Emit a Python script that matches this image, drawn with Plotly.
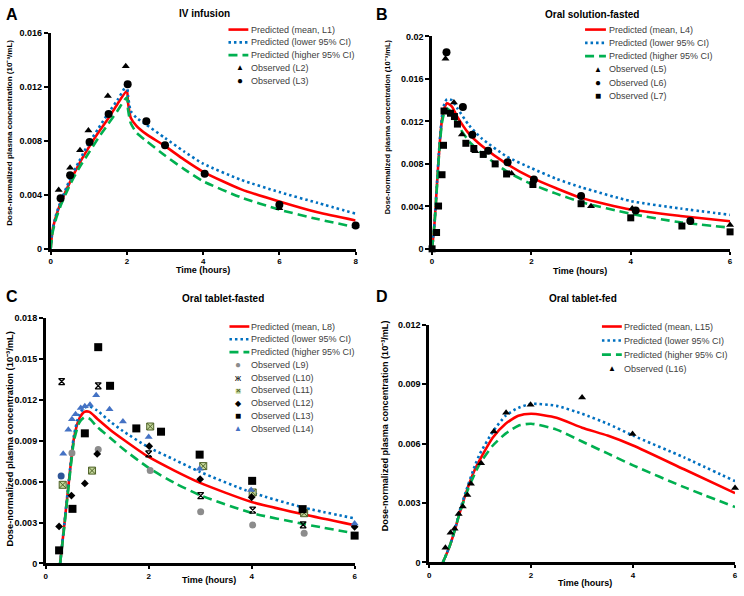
import plotly.graph_objects as go

W, H = 744, 596
FONT = "Arial, Liberation Sans, sans-serif"

# ---------------- Panel A : IV infusion ----------------
a_t = [0, 0.05, 0.15, 0.25, 0.5, 0.75, 1.0, 1.25, 1.5, 1.75, 2.0, 2.03, 2.1, 2.25, 2.5, 3, 3.5, 4, 5, 6, 7, 8]
a_mean = [0, 0.0014, 0.0025, 0.0033, 0.0049, 0.0063, 0.0075, 0.0086, 0.0096, 0.0107, 0.0117, 0.0108, 0.0097, 0.0091, 0.0085, 0.0076, 0.0066, 0.0057, 0.0044, 0.0035, 0.0027, 0.0021]
a_low = [0, 0.0014, 0.0026, 0.0034, 0.0051, 0.0065, 0.0078, 0.0089, 0.0100, 0.0110, 0.0121, 0.0113, 0.0102, 0.0097, 0.0092, 0.0082, 0.0072, 0.0063, 0.0051, 0.0042, 0.0034, 0.0026]
a_high = [0, 0.0012, 0.0023, 0.0031, 0.0047, 0.0060, 0.0071, 0.0082, 0.0092, 0.0102, 0.0112, 0.0103, 0.0093, 0.0086, 0.0080, 0.0069, 0.0059, 0.0050, 0.0038, 0.0029, 0.0022, 0.0016]
a_l2_t = [0.21, 0.51, 0.77, 0.99, 1.5, 1.97, 6.0, 8.0]
a_l2_c = [0.00435, 0.0060, 0.0073, 0.00875, 0.0113, 0.0135, 0.0030, 0.0017]
a_l3_t = [0.26, 0.51, 1.02, 1.52, 2.02, 2.51, 3.0, 4.04, 6.0, 8.0]
a_l3_c = [0.00375, 0.00544, 0.0079, 0.00998, 0.01218, 0.00943, 0.00766, 0.00556, 0.00326, 0.00172]

# ---------------- Panel B : Oral solution-fasted ----------------
b_t = [0, 0.05, 0.1, 0.15, 0.2, 0.25, 0.3, 0.4, 0.5, 0.75, 1, 1.5, 2, 2.5, 3, 4, 5, 6]
b_mean = [0, 0.0025, 0.0062, 0.0097, 0.0122, 0.0133, 0.0137, 0.0134, 0.0125, 0.0108, 0.0097, 0.0080, 0.0067, 0.0057, 0.0048, 0.0037, 0.0031, 0.0026]
b_low = [0, 0.0025, 0.0063, 0.0099, 0.0125, 0.0137, 0.0141, 0.0140, 0.0133, 0.0116, 0.0104, 0.0087, 0.0076, 0.0066, 0.0058, 0.0045, 0.0038, 0.0032]
b_high = [0, 0.0024, 0.0060, 0.0095, 0.0119, 0.0129, 0.0132, 0.0128, 0.0118, 0.0101, 0.0090, 0.0073, 0.0061, 0.0052, 0.0044, 0.0033, 0.0025, 0.0020]
b_l5_t = [0.27, 0.44, 0.6, 0.87, 1.6, 3.2, 4.03, 6.0]
b_l5_c = [0.0179, 0.01378, 0.01077, 0.0092, 0.0071, 0.0040, 0.0038, 0.00225]
b_l6_t = [0.29, 0.62, 0.81, 1.13, 1.52, 2.05, 3.0, 4.1, 5.2]
b_l6_c = [0.01852, 0.01335, 0.01074, 0.00923, 0.00815, 0.00652, 0.00498, 0.0036, 0.00262]
b_l7_t = [0, 0.09, 0.13, 0.2, 0.23, 0.24, 0.37, 0.45, 0.51, 0.68, 0.84, 1.03, 1.27, 1.5, 2.03, 3.0, 4.0, 5.03, 6.0]
b_l7_c = [0, 0.00154, 0.00403, 0.00698, 0.00975, 0.01298, 0.01277, 0.01246, 0.01175, 0.00994, 0.00945, 0.00889, 0.0080, 0.00705, 0.00606, 0.00425, 0.00292, 0.00215, 0.0016]

# ---------------- Panel C : Oral tablet-fasted ----------------
c_t = [0.28, 0.35, 0.45, 0.55, 0.65, 0.75, 0.85, 1.0, 1.25, 1.5, 2, 2.5, 3, 4, 5, 6]
c_mean = [0, 0.0024, 0.0060, 0.0092, 0.0106, 0.0111, 0.0111, 0.0106, 0.0098, 0.0091, 0.0078, 0.0068, 0.0059, 0.0045, 0.0036, 0.0028]
c_low = [0, 0.0025, 0.0061, 0.0094, 0.0109, 0.0114, 0.0115, 0.0112, 0.0104, 0.0097, 0.0085, 0.0076, 0.0067, 0.0052, 0.0041, 0.0033]
c_high = [0, 0.0023, 0.0058, 0.0090, 0.0103, 0.0107, 0.0106, 0.0100, 0.0092, 0.0084, 0.0070, 0.0059, 0.0050, 0.0037, 0.0029, 0.0022]
c_l9_t = [0.3, 0.51, 1.02, 2.03, 3.01, 4.02, 5.02]
c_l9_c = [0.0064, 0.00809, 0.00835, 0.0068, 0.00379, 0.00281, 0.00221]
c_l10_t = [0.31, 1.02, 2.0, 3.01, 4.02, 5.0]
c_l10_c = [0.01332, 0.01301, 0.00802, 0.00497, 0.00391, 0.00283]
c_l11_t = [0.33, 0.9, 2.03, 3.06, 4.02, 5.02]
c_l11_c = [0.00576, 0.0068, 0.01003, 0.00713, 0.0052, 0.00368]
c_l12_t = [0.26, 0.5, 0.76, 1.0, 2.01, 3.0, 4.0, 6.0]
c_l12_c = [0.00271, 0.00497, 0.00586, 0.00802, 0.00859, 0.00617, 0.00485, 0.00269]
c_l13_t = [0.26, 0.52, 0.76, 1.02, 1.25, 1.76, 2.24, 2.99, 4.01, 4.99, 6.0]
c_l13_c = [0.00096, 0.0040, 0.00953, 0.01584, 0.01301, 0.00989, 0.00965, 0.00797, 0.00605, 0.00398, 0.00204]
c_l14_t = [0.34, 0.44, 0.51, 0.58, 0.68, 0.76, 0.86, 0.98, 1.24, 1.5, 2.0, 2.99, 3.99, 6.0]
c_l14_c = [0.00804, 0.00979, 0.01056, 0.01092, 0.01138, 0.01152, 0.01162, 0.01231, 0.0113, 0.01039, 0.00926, 0.00694, 0.00538, 0.00293]

# ---------------- Panel D : Oral tablet-fed ----------------
d_t = [0.27, 0.4, 0.5, 0.6, 0.75, 0.9, 1.0, 1.25, 1.5, 1.75, 2.0, 2.5, 3, 3.5, 4, 5, 6]
d_mean = [0, 0.0008, 0.0016, 0.0025, 0.0037, 0.0047, 0.0052, 0.0063, 0.0070, 0.0074, 0.0075, 0.0073, 0.0068, 0.0064, 0.0059, 0.0047, 0.0035]
d_low = [0, 0.0008, 0.0016, 0.0026, 0.0038, 0.0049, 0.0055, 0.0066, 0.0074, 0.0078, 0.0080, 0.0079, 0.0075, 0.0070, 0.0064, 0.0053, 0.0041]
d_high = [0, 0.0008, 0.0016, 0.0025, 0.0036, 0.0045, 0.0050, 0.0059, 0.0065, 0.0069, 0.0070, 0.0067, 0.0061, 0.0055, 0.0049, 0.0038, 0.0028]
d_l16_t = [0.32, 0.42, 0.5, 0.58, 0.66, 0.75, 0.82, 1.02, 1.27, 1.51, 1.99, 3.0, 3.99, 6.0]
d_l16_c = [0.00074, 0.0015, 0.0017, 0.00244, 0.00282, 0.0034, 0.00397, 0.0050, 0.00661, 0.00755, 0.00796, 0.00832, 0.00648, 0.00376]

# ---------------- texts / ticks ----------------
panel_letters = ["A", "B", "C", "D"]
panel_titles = ["IV infusion", "Oral solution-fasted", "Oral tablet-fasted", "Oral tablet-fed"]
x_title = "Time (hours)"
y_title = "Dose-normalized plasma concentration (10⁻³/mL)"
x_ticks = [[0, 2, 4, 6, 8], [0, 2, 4, 6], [0, 2, 4, 6], [0, 2, 4, 6]]
y_ticks = [[0, 0.004, 0.008, 0.012, 0.016],
           [0, 0.004, 0.008, 0.012, 0.016, 0.02],
           [0, 0.003, 0.006, 0.009, 0.012, 0.015, 0.018],
           [0, 0.003, 0.006, 0.009, 0.012]]
y_ticktext = [["0", "0.004", "0.008", "0.012", "0.016"],
              ["0", "0.004", "0.008", "0.012", "0.016", "0.02"],
              ["0", "0.003", "0.006", "0.009", "0.012", "0.015", "0.018"],
              ["0", "0.003", "0.006", "0.009", "0.012"]]
legend_labels = [
    ["Predicted (mean, L1)", "Predicted (lower 95% CI)", "Predicted (higher 95% CI)", "Observed (L2)", "Observed (L3)"],
    ["Predicted (mean, L4)", "Predicted (lower 95% CI)", "Predicted (higher 95% CI)", "Observed (L5)", "Observed (L6)", "Observed (L7)"],
    ["Predicted (mean, L8)", "Predicted (lower 95% CI)", "Predicted (higher 95% CI)", "Observed (L9)", "Observed (L10)",
     "Observed (L11)", "Observed (L12)", "Observed (L13)", "Observed (L14)"],
    ["Predicted (mean, L15)", "Predicted (lower 95% CI)", "Predicted (higher 95% CI)", "Observed (L16)"],
]

# ---------------- styles / layout constants ----------------
RED, BLUE, GREEN = "#ff0000", "#0070c0", "#00b050"
GRAY, LBLUE, LGREEN, DGREEN = "#8c8c8c", "#4472c4", "#c3d69b", "#4f6228"
line_styles = [dict(color=RED, width=2.6), dict(color=BLUE, width=2.6, dash="2.5px,3px"),
               dict(color=GREEN, width=2.6, dash="9px,5px")]

# plot area in pixels: (left, right, top, bottom)
boxes = [(49, 356, 28, 248), (433, 733, 32, 248), (44, 355, 318, 568), (430, 738, 325, 567)]
x_ranges = [[0, 8], [0, 6], [0, 6], [0, 6]]
y_ranges = [[0, 0.016], [0, 0.02], [0, 0.018], [0, 0.012]]

def px(x):
    return x / W

def py(y):
    return 1 - y / H

fig = go.Figure()

def add_curves(i, t, mean, low, high):
    ax = "" if i == 0 else str(i + 1)
    for ys, st in zip([mean, low, high], line_styles):
        fig.add_trace(go.Scatter(x=t, y=ys, mode="lines", line=dict(shape="spline", smoothing=0.6, **st),
                                 xaxis="x" + ax, yaxis="y" + ax, showlegend=False, hoverinfo="x+y"))

def add_points(i, t, c, marker):
    ax = "" if i == 0 else str(i + 1)
    fig.add_trace(go.Scatter(x=t, y=c, mode="markers", marker=marker, cliponaxis=False,
                             xaxis="x" + ax, yaxis="y" + ax, showlegend=False))

# Panel A
add_curves(0, a_t, a_mean, a_low, a_high)
add_points(0, a_l2_t, a_l2_c, dict(symbol="triangle-up", size=7, color="black"))
add_points(0, a_l3_t, a_l3_c, dict(symbol="circle", size=8, color="black"))
# Panel B
add_curves(1, b_t, b_mean, b_low, b_high)
add_points(1, b_l5_t, b_l5_c, dict(symbol="triangle-up", size=7, color="black"))
add_points(1, b_l6_t, b_l6_c, dict(symbol="circle", size=8, color="black"))
add_points(1, b_l7_t, b_l7_c, dict(symbol="square", size=7, color="black"))
# Panel C
add_curves(2, c_t, c_mean, c_low, c_high)
l9_colors = ["#2f5597"] + [GRAY] * (len(c_l9_t) - 1)
add_points(2, c_l9_t, c_l9_c, dict(symbol="circle", size=7, color=l9_colors))
add_points(2, c_l10_t, c_l10_c, dict(symbol="hourglass-open", size=6, color="black", line=dict(color="black", width=1.3)))
add_points(2, c_l11_t, c_l11_c, dict(symbol="square-x", size=7, color=LGREEN, line=dict(color=DGREEN, width=1)))
add_points(2, c_l12_t, c_l12_c, dict(symbol="diamond", size=6, color="black"))
add_points(2, c_l13_t, c_l13_c, dict(symbol="square", size=8, color="black"))
add_points(2, c_l14_t, c_l14_c, dict(symbol="triangle-up", size=7, color=LBLUE))
# Panel D
add_curves(3, d_t, d_mean, d_low, d_high)
add_points(3, d_l16_t, d_l16_c, dict(symbol="triangle-up", size=7, color="black"))

layout = dict(width=W, height=H, margin=dict(l=0, r=0, t=0, b=0), plot_bgcolor="white",
              paper_bgcolor="white", font=dict(family=FONT, color="black"), showlegend=False)
for i, (l, r, t, b) in enumerate(boxes):
    ax = "" if i == 0 else str(i + 1)
    layout["xaxis" + ax] = dict(domain=[px(l), px(r)], range=x_ranges[i], anchor="y" + ax,
                                showgrid=False, zeroline=False, showline=True, linecolor="black", linewidth=2.5,
                                ticks="outside", ticklen=3, tickwidth=1.5, tickcolor="black",
                                tickvals=x_ticks[i], ticktext=[str(v) for v in x_ticks[i]],
                                tickfont=dict(size=8, weight="bold", family=FONT))
    layout["yaxis" + ax] = dict(domain=[py(b), py(t)], range=y_ranges[i], anchor="x" + ax,
                                showgrid=False, zeroline=False, showline=True, linecolor="black", linewidth=2.5,
                                ticks="outside", ticklen=4, tickwidth=1.5, tickcolor="black",
                                tickvals=y_ticks[i], ticktext=y_ticktext[i],
                                tickfont=dict(size=9, weight="bold", family=FONT))

annotations = []
shapes = []

def ann(text, x, y, size, bold=True, color="black", xanchor="center", angle=0):
    annotations.append(dict(text=("<b>%s</b>" % text) if bold else text, x=px(x), y=py(y), xref="paper",
                            yref="paper", showarrow=False, xanchor=xanchor, yanchor="middle",
                            textangle=angle, font=dict(size=size, color=color, family=FONT)))

letter_pos = [(10, 10), (383, 10), (10, 296), (383, 296)]
title_pos = [(204, 9), (594, 10), (222, 299), (585, 299)]
xt_pos = [(202, 270), (582, 271), (208, 585), (587, 588)]
yt_pos = [(8, 130, 8), (389, 124, 7.5), (8, 441, 9.3), (385, 428, 9.1)]
for i in range(4):
    ann(panel_letters[i], *letter_pos[i], 16)
    ann(panel_titles[i], *title_pos[i], 10)
    ann(x_title, *xt_pos[i], 9)
    ann(y_title, yt_pos[i][0], yt_pos[i][1], yt_pos[i][2], angle=-90)

# legends: (key left, key right, marker center, text x, first row y, row step)
leg_geo = [(228, 248, 240, 249, 25, 13), (587, 608, 600, 609, 25, 13.5),
           (229, 249, 238, 249, 327, 13), (604, 624, 614, 624, 327, 14.3)]
leg_markers = [
    [("▲", "black", 8), ("●", "black", 10)],
    [("▲", "black", 8), ("●", "black", 10), ("■", "black", 10)],
    [("●", GRAY, 10), ("ж", "black", 9), ("L11", None, 0), ("◆", "black", 8), ("■", "black", 10), ("▲", LBLUE, 8)],
    [("▲", "black", 8)],
]
for i in range(4):
    kl, kr, mx, tx, y0, dy = leg_geo[i]
    for j, lab in enumerate(legend_labels[i]):
        yy = y0 + j * dy
        if j < 3:
            st = line_styles[j]
            shapes.append(dict(type="line", xref="paper", yref="paper", x0=px(kl), x1=px(kr), y0=py(yy), y1=py(yy),
                               line=dict(color=st["color"], width=2.6, dash=st.get("dash", "solid"))))
        else:
            g, col, sz = leg_markers[i][j - 3]
            if g == "L11":
                ann("■", mx, yy, 10, bold=False, color=LGREEN)
                ann("×", mx, yy, 8, bold=True, color=DGREEN)
            else:
                ann(g, mx, yy, sz, bold=False, color=col)
        ann(lab, tx, yy, 9, bold=False, color="#404040", xanchor="left")

layout["annotations"] = annotations
layout["shapes"] = shapes
fig.update_layout(**layout)
fig.write_html("out.html", config={"displayModeBar": False}, post_script="document.body.style.margin='0px';")
